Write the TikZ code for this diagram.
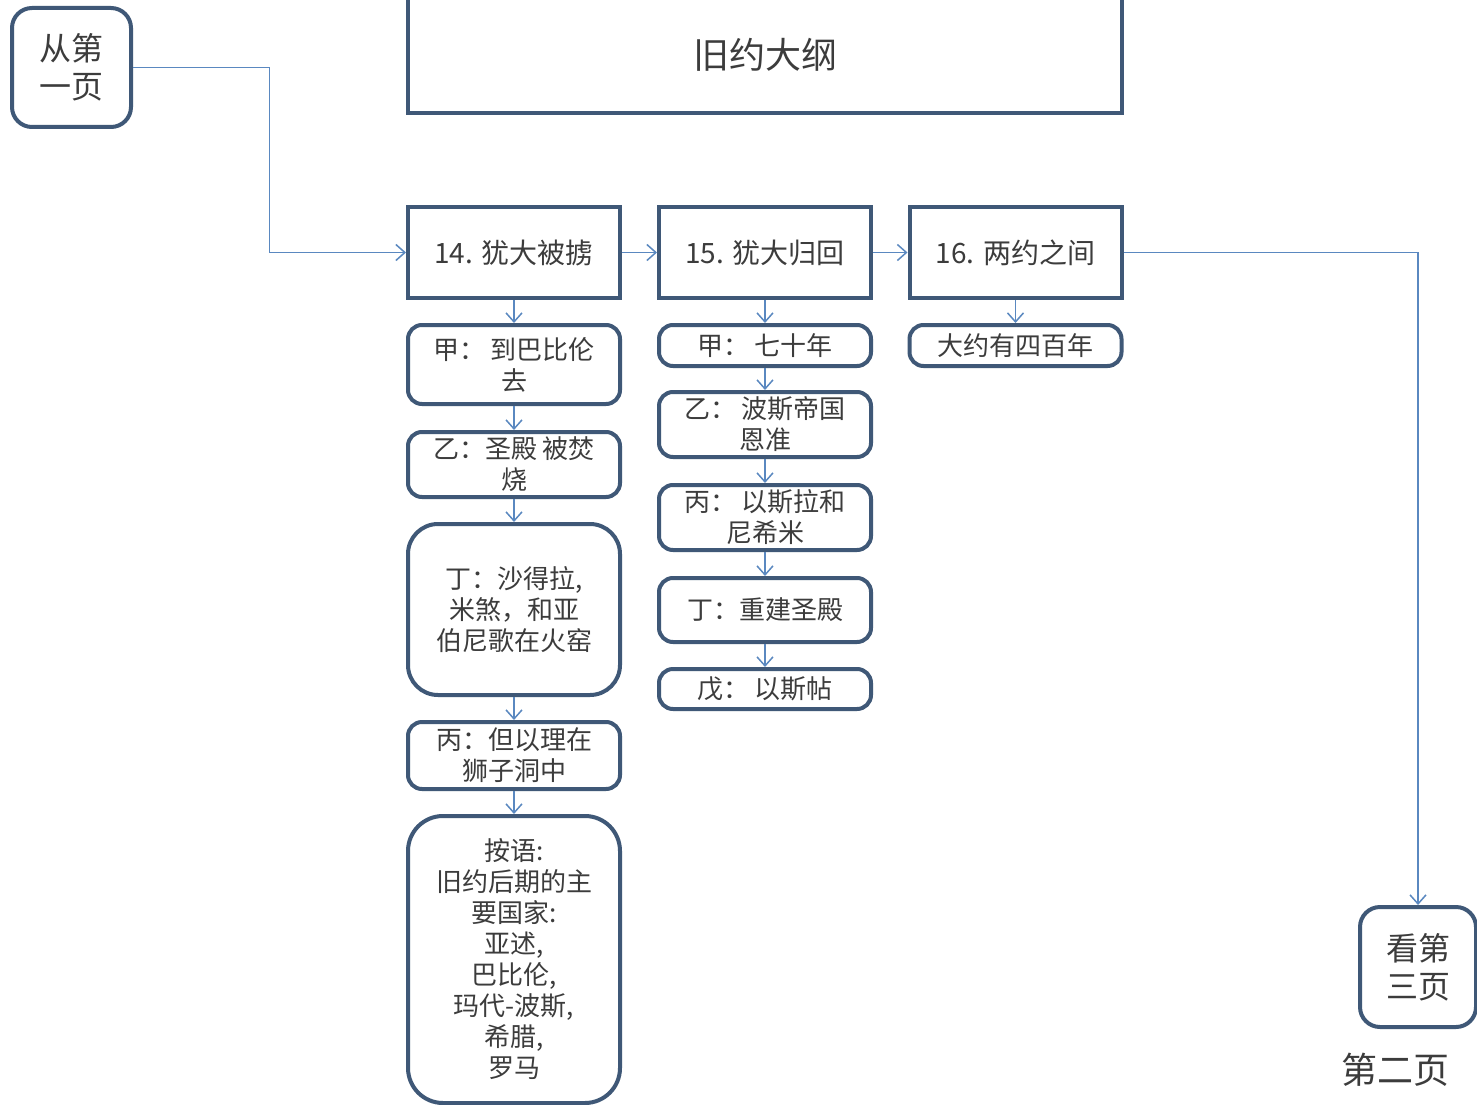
\documentclass[tikz,border=0pt]{standalone}
\usepackage{fontspec}
\setmainfont{Noto Sans CJK SC}
\usetikzlibrary{arrows.meta}
\definecolor{boxc}{HTML}{3F5877}
\definecolor{linec}{HTML}{5A88C0}
\definecolor{txtc}{HTML}{3C3C3C}
\tikzset{
  base/.style={draw=boxc, line width=4pt, fill=white, text=txtc, align=center, inner sep=2pt},
  headbox/.style={base, minimum width=212pt, minimum height=91pt, font=\fontsize{28}{32}\selectfont},
  subbox/.style={base, rounded corners=14pt, minimum width=212pt, font=\fontsize{26}{31}\selectfont},
  pagebox/.style={base, rounded corners=20pt, font=\fontsize{32}{38}\selectfont},
  conn/.style={draw=linec, line width=1.5pt, -{Straight Barb[length=9pt,width=16pt]}},
  plain/.style={draw=linec, line width=1.5pt}
}
\begin{document}
\begin{tikzpicture}[x=1pt,y=-1pt]
\useasboundingbox (0,0) rectangle (1477,1105);
\clip (0,0) rectangle (1477,1105);
\fill[white] (0,0) rectangle (1477,1105);

% page links
\node[pagebox, minimum width=119pt, minimum height=119pt] (p1) at (71.5,67.5) {从第\\一页};
\node[pagebox, minimum width=116pt, minimum height=120pt] (p3) at (1418,967) {看第\\三页};
\node[text=txtc, font=\fontsize{36}{40}\selectfont] (pg) at (1395,1070) {第二页};

% title
\node[base, minimum width=714pt, minimum height=133pt, font=\fontsize{36}{40}\selectfont] (title) at (765,46.5) {};
\node[text=txtc, font=\fontsize{36}{40}\selectfont] (titletext) at (765,55) {旧约大纲};

% headers
\node[headbox] (b14) at (514,252.5) {14. 犹大被掳};
\node[headbox] (b15) at (765,252.5) {15. 犹大归回};
\node[headbox] (b16) at (1015.5,252.5) {16. 两约之间};

% column 1
\node[subbox, minimum height=79pt] (a1) at (514,364.5) {甲：\ 到巴比伦\\去};
\node[subbox, minimum height=65pt] (a2) at (514,464.5) {乙：圣殿\,被焚\\烧};
\node[subbox, rounded corners=30pt, minimum height=171pt] (a3) at (514,609.5) {丁：沙得拉,\\米煞，和亚\\伯尼歌在火窑};
\node[subbox, minimum height=67pt] (a4) at (514,755.5) {丙：但以理在\\狮子洞中};
\node[subbox, rounded corners=35pt, minimum height=287pt] (a5) at (514,959.5) {按语:\\旧约后期的主\\要国家:\\亚述,\\巴比伦,\\玛代-波斯,\\希腊,\\罗马};

% column 2
\node[subbox, minimum height=41pt] (c1) at (765,345.5) {甲：\ 七十年};
\node[subbox, minimum height=65pt] (c2) at (765,424.5) {乙：\ 波斯帝国\\恩准};
\node[subbox, minimum height=65pt] (c3) at (765,517.5) {丙：\ 以斯拉和\\尼希米};
\node[subbox, minimum height=64pt] (c4) at (765,610) {丁：重建圣殿};
\node[subbox, minimum height=40pt] (c5) at (765,689) {戊：\ 以斯帖};

% column 3
\node[subbox, minimum height=41pt] (d1) at (1015.5,345.5) {大约有四百年};

% connectors
\draw[conn] (p1.east) -- ++(136.5,0) |- (b14.west);
\draw[conn] (b14) -- (b15);
\draw[conn] (b15) -- (b16);
\draw[conn] (b16.east) -| (p3.north);

\draw[conn] (b14) -- (a1);
\draw[conn] (a1) -- (a2);
\draw[conn] (a2) -- (a3);
\draw[conn] (a3) -- (a4);
\draw[conn] (a4) -- (a5);

\draw[conn] (b15) -- (c1);
\draw[conn] (c1) -- (c2);
\draw[conn] (c2) -- (c3);
\draw[conn] (c3) -- (c4);
\draw[conn] (c4) -- (c5);

\draw[conn] (b16) -- (d1);
\end{tikzpicture}
\end{document}
